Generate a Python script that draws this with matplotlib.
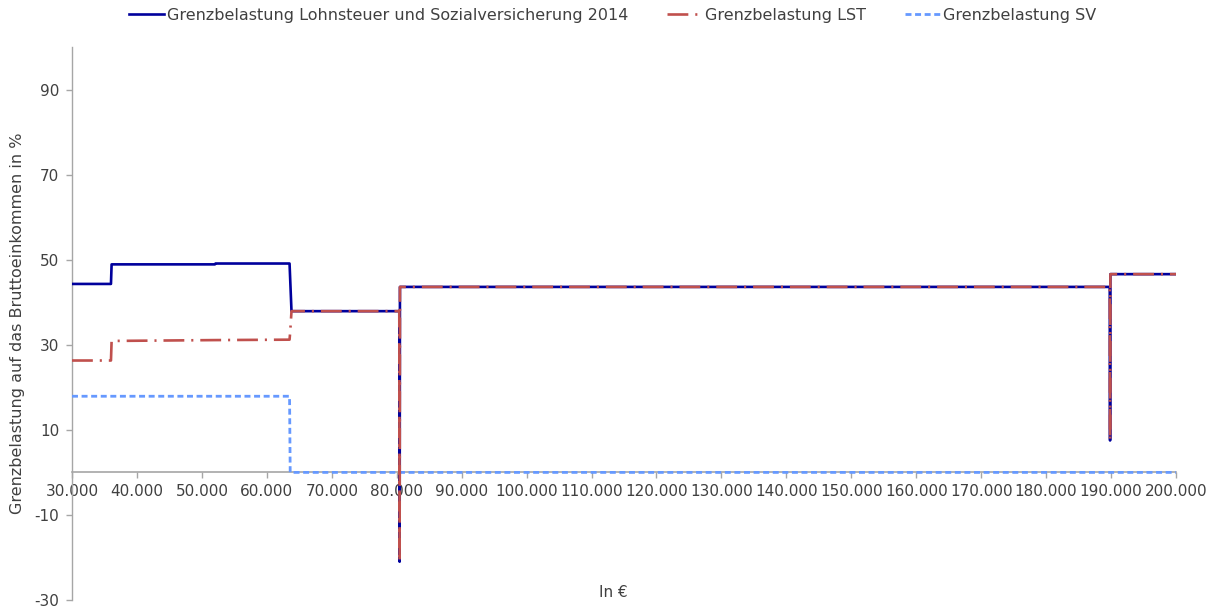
import matplotlib
matplotlib.use("Agg")
import matplotlib.pyplot as plt
from matplotlib.ticker import FixedLocator, FuncFormatter

plt.rcParams['font.family'] = ['DejaVu Sans']
plt.rcParams['lines.scale_dashes'] = False
plt.rcParams['axes.unicode_minus'] = False

# Breakpoints of the marginal burden curves (gross income in EUR, burden in %)
income_total = [30000, 36000, 36100, 52000, 52100, 63500, 63800, 80400, 80450, 80500,
                189800, 189850, 189900, 200000]
burden_total = [44.3, 44.3, 48.9, 48.9, 49.1, 49.1, 37.9, 37.9, -21.0, 43.6,
                43.6, 7.5, 46.6, 46.6]

income_lst = [30000, 36000, 36100, 52000, 63500, 63600, 63800, 80400, 80450, 80500,
              189800, 189850, 189900, 200000]
burden_lst = [26.3, 26.3, 30.9, 31.1, 31.2, 33.0, 37.9, 37.9, -21.0, 43.6,
              43.6, 7.5, 46.6, 46.6]

income_sv = [30000, 63500, 63600, 200000]
burden_sv = [17.9, 17.9, 0.0, 0.0]

x_ticks = list(range(30000, 200001, 10000))
y_ticks = [-30, -10, 10, 30, 50, 70, 90]

label_total = "Grenzbelastung Lohnsteuer und Sozialversicherung 2014"
label_lst = "Grenzbelastung LST"
label_sv = "Grenzbelastung SV"

c_total = "#00009C"
c_lst = "#C0504D"
c_sv = "#6699FF"
c_axis = "#A6A6A6"
c_text = "#404040"

fig = plt.figure(figsize=(12.08, 6.07), dpi=100)
ax = fig.add_axes([0.0596, 0.0115, 0.9139, 0.9111])

ax.plot(income_sv, burden_sv, color=c_sv, lw=2.0, dashes=(4.3, 2.6), label=label_sv, zorder=3)
ax.plot(income_total, burden_total, color=c_total, lw=1.9, label=label_total, zorder=4)
ax.plot(income_lst, burden_lst, color=c_lst, lw=1.9, dashes=(15, 5, 1.5, 5), label=label_lst, zorder=5)

ax.set_xlim(30000, 200000)
ax.set_ylim(-30, 100)

for s in ("top", "right"):
    ax.spines[s].set_visible(False)
ax.spines["bottom"].set_position(("data", 0))
ax.spines["bottom"].set_color(c_axis)
ax.spines["left"].set_color(c_axis)
ax.spines["bottom"].set_linewidth(1.2)
ax.spines["left"].set_linewidth(1.0)

ax.xaxis.set_major_locator(FixedLocator(x_ticks))
ax.xaxis.set_major_formatter(FuncFormatter(lambda v, p: f"{int(v):,}".replace(",", ".")))
ax.yaxis.set_major_locator(FixedLocator(y_ticks))
ax.tick_params(axis="both", colors=c_axis, labelcolor=c_text, labelsize=11, length=4, width=1)
ax.tick_params(axis="x", direction="out", pad=4)
ax.tick_params(axis="y", pad=5)

ax.set_ylabel("Grenzbelastung auf das Bruttoeinkommen in %", fontsize=11.5, color=c_text)
ax.yaxis.set_label_coords(-0.043, 0.5)
fig.text(0.508, 0.024, "In €", fontsize=11, color=c_text, ha="center", va="center")

handles, labels = ax.get_legend_handles_labels()
order = [1, 2, 0]
fig.legend([handles[i] for i in order], [labels[i] for i in order],
           loc="center", bbox_to_anchor=(0.507, 0.975), ncol=3, frameon=False,
           fontsize=11.5, handlelength=2.2, handletextpad=0.2, columnspacing=2.4,
           labelcolor=c_text)

fig.savefig("out.png", dpi=100)
